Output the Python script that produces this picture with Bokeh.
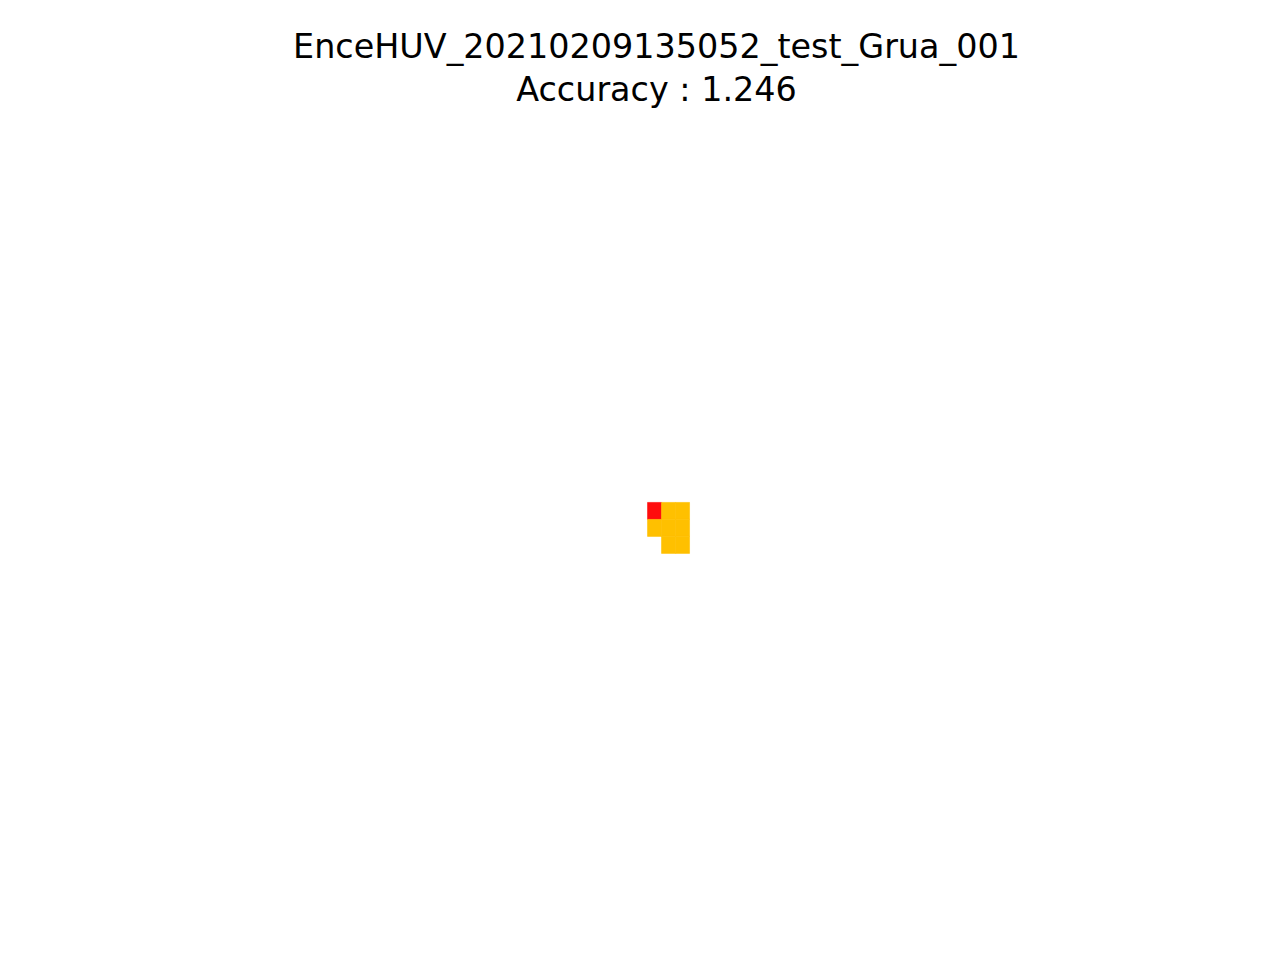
from bokeh.plotting import figure
from bokeh.models import Title, Range1d
from bokeh.embed import file_html
from bokeh.resources import INLINE

# Grid cells (column index, row index counted downward) and their class
cell_col = [0, 1, 2, 0, 1, 2, 1, 2]
cell_row = [0, 0, 0, 1, 1, 1, 2, 2]
cell_class = ["red", "yellow", "yellow", "yellow", "yellow", "yellow", "yellow", "yellow"]
class_colors = {"red": "#ff0d0d", "yellow": "#ffc000"}

title_line1 = "EnceHUV_20210209135052_test_Grua_001"
title_line2 = "Accuracy : 1.246"

left = cell_col
right = [c + 1 for c in cell_col]
top = [-r for r in cell_row]
bottom = [-r - 1 for r in cell_row]
colors = [class_colors[c] for c in cell_class]

p = figure(width=1280, height=960, output_backend="svg", toolbar_location=None,
           x_range=Range1d(-34.79, 36.07), y_range=Range1d(-20.71, 22.76),
           min_border_left=160, min_border_right=128, min_border_top=115,
           min_border_bottom=106)
p.title = None
p.quad(left=left, right=right, top=top, bottom=bottom, fill_color=colors,
       line_color=colors, line_width=0.6)

t2 = Title(text=title_line2, align="center", text_font="DejaVu Sans",
           text_font_size="33.4px", text_font_style="normal", standoff=13,
           text_color="black")
t1 = Title(text=title_line1, align="center", text_font="DejaVu Sans",
           text_font_size="33.4px", text_font_style="normal", standoff=-9,
           text_color="black")
p.add_layout(t2, "above")
p.add_layout(t1, "above")

p.axis.visible = False
p.xgrid.visible = False
p.ygrid.visible = False
p.outline_line_color = None
p.background_fill_color = "white"
p.border_fill_color = "white"

open("out.html", "w").write(file_html(p, INLINE))
